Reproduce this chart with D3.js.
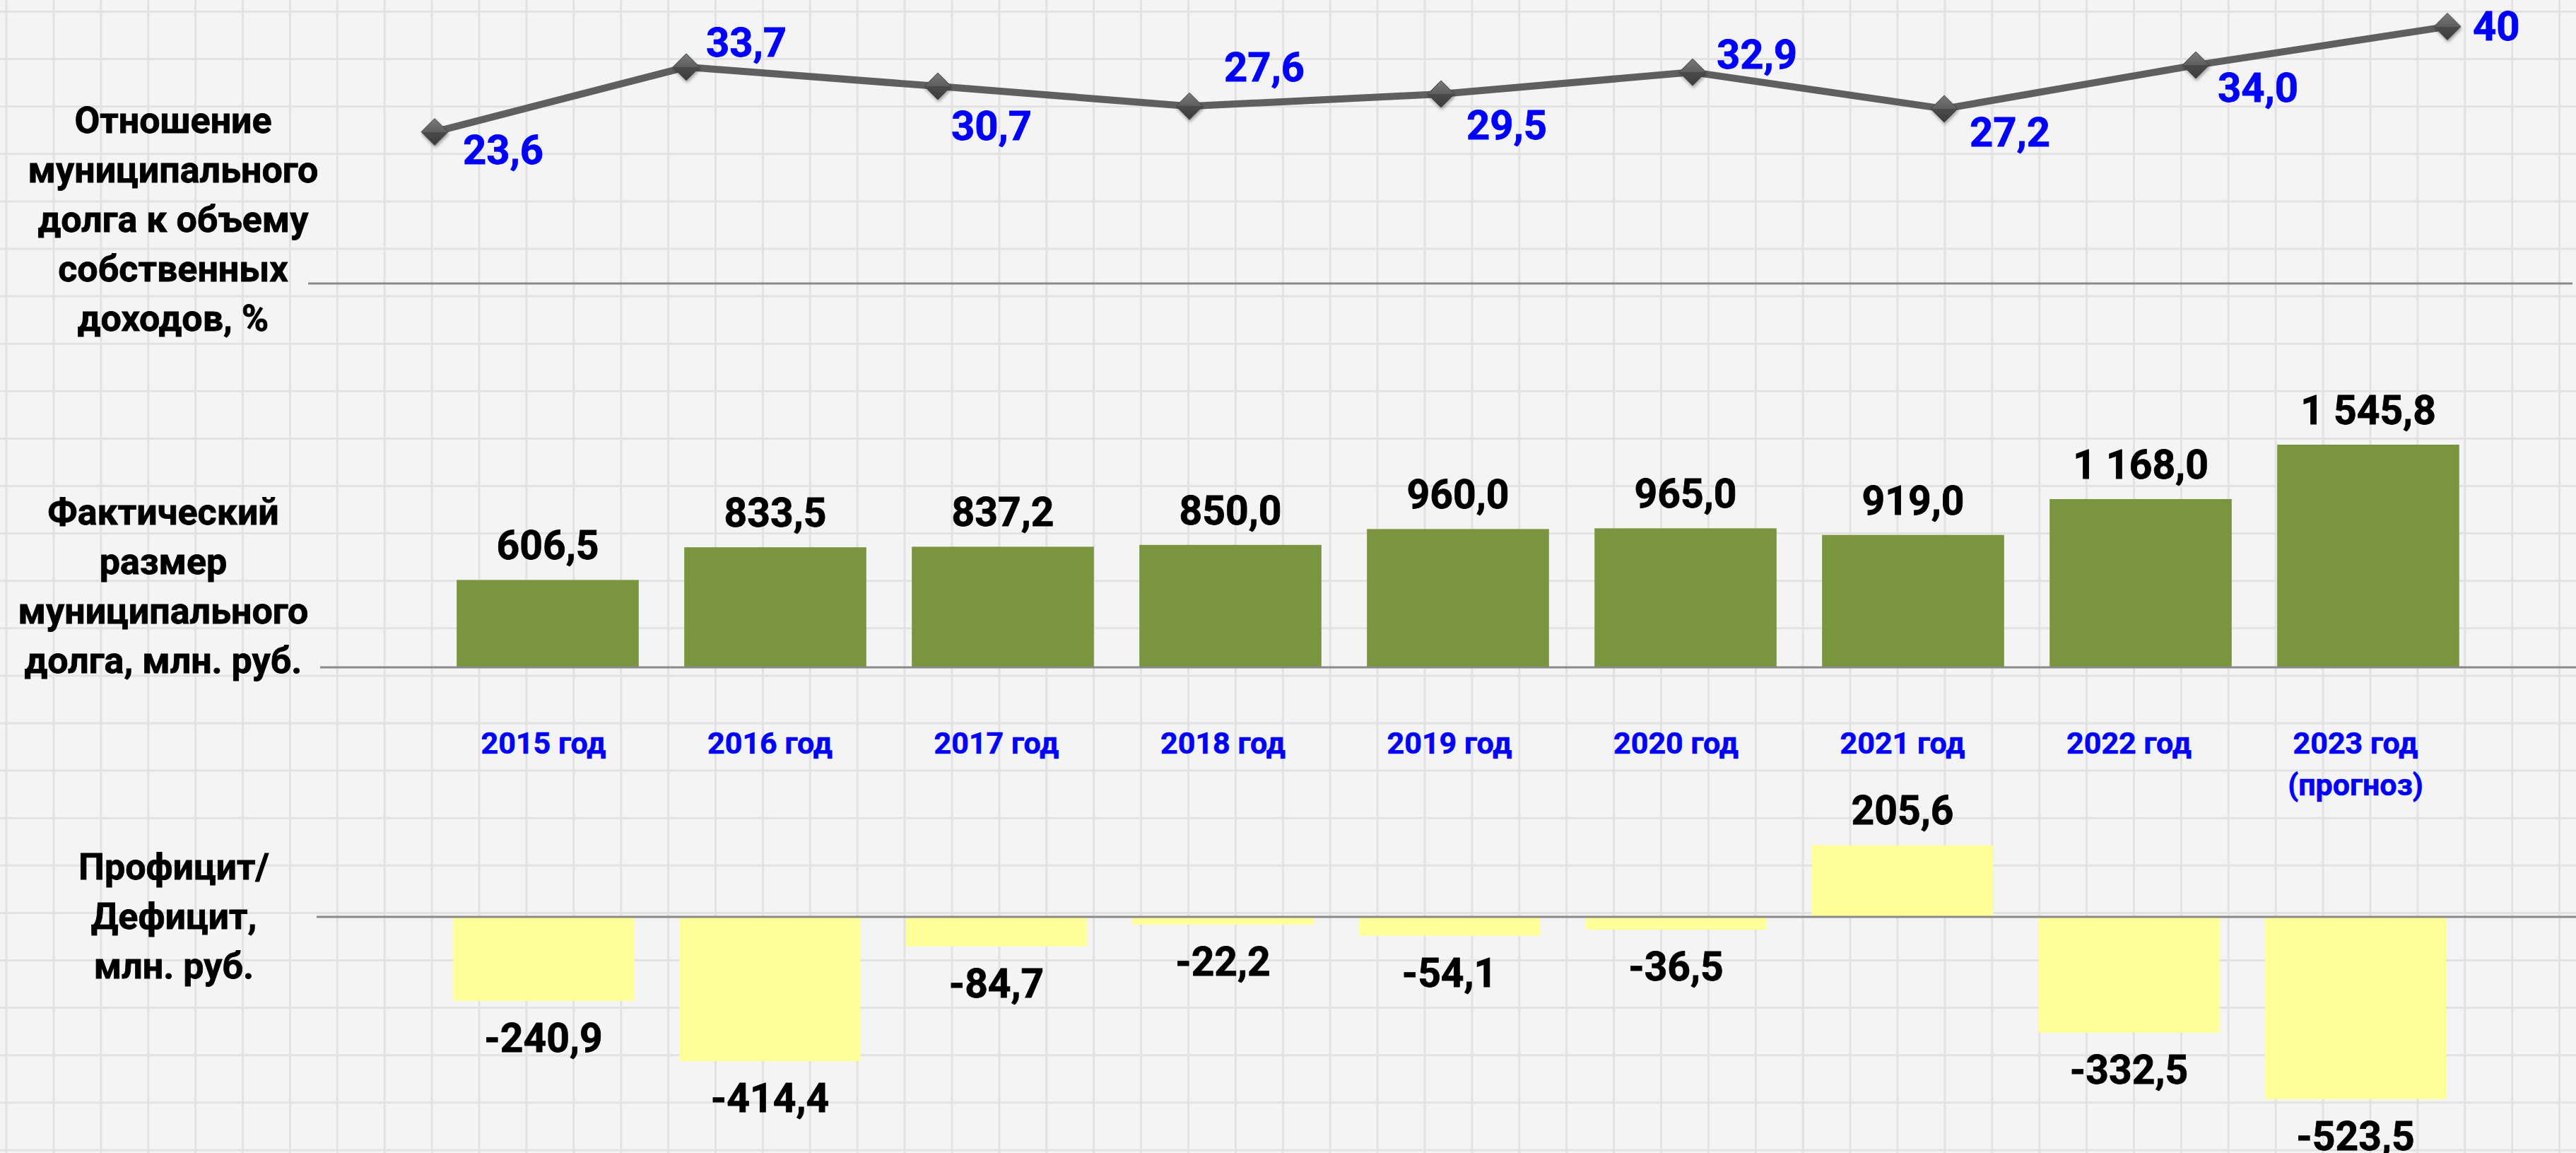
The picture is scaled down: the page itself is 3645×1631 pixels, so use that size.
<!DOCTYPE html>
<html>
  <head>
    <meta charset="utf-8">
    <script src="https://d3js.org/d3.v7.min.js"></script>
    <title>Муниципальный долг</title>
    <style>
      body { margin: 0px; background: #f4f4f4; }
      text { font-family: Roboto, "Open Sans", sans-serif; font-weight: 700; }
    </style>
  </head>
  <body>
    <svg width="3645" height="1631"></svg>
    <script>
      // data
      const years = ['2015 год', '2016 год', '2017 год', '2018 год', '2019 год',
                     '2020 год', '2021 год', '2022 год', '2023 год'];
      const yearNotes = ['', '', '', '', '', '', '', '', '(прогноз)'];
      const debtRatio = [23.6, 33.7, 30.7, 27.6, 29.5, 32.9, 27.2, 34.0, 40];
      const debtRatioLabels = ['23,6', '33,7', '30,7', '27,6', '29,5', '32,9', '27,2', '34,0', '40'];
      const debtSize = [606.5, 833.5, 837.2, 850.0, 960.0, 965.0, 919.0, 1168.0, 1545.8];
      const balance = [-240.9, -414.4, -84.7, -22.2, -54.1, -36.5, 205.6, -332.5, -523.5];

      // label placement for the line (offset of label's left/baseline from the marker)
      const ratioLabelOffset = [[40, 45], [28, -15], [19, 76], [49, -35], [36, 64],
                                [34, -5], [36, 53], [31, 52], [36, 19]];

      const ruFormat = d3.formatLocale({
        decimal: ',', thousands: '\u00a0', grouping: [3], currency: ['', ''], minus: '-'
      }).format(',.1f');

      const svg = d3.select('svg');
      const width = +svg.attr('width');
      const height = +svg.attr('height');

      // background checkered grid
      const grid = svg.append('g').attr('stroke', '#e2e2e2').attr('stroke-width', 3);
      grid.selectAll('.v').data(d3.range(9, width, 66.9))
        .enter().append('line')
          .attr('x1', d => d).attr('x2', d => d)
          .attr('y1', 0).attr('y2', height);
      grid.selectAll('.h').data(d3.range(16.5, height, 67.1))
        .enter().append('line')
          .attr('y1', d => d).attr('y2', d => d)
          .attr('x1', 0).attr('x2', width);

      // left titles
      const titles = [
        { x: 245, y: 188, lines: ['Отношение', 'муниципального', 'долга к объему', 'собственных', 'доходов, %'] },
        { x: 231, y: 742, lines: ['Фактический', 'размер', 'муниципального', 'долга, млн. руб.'] },
        { x: 246, y: 1244, lines: ['Профицит/', 'Дефицит,', 'млн. руб.'] }
      ];
      titles.forEach(t => {
        const txt = svg.append('text')
          .attr('text-anchor', 'middle')
          .attr('font-size', 52)
          .attr('fill', '#000')
          .attr('stroke', '#000')
          .attr('stroke-width', 0.8);
        t.lines.forEach((l, i) => {
          txt.append('tspan').attr('x', t.x).attr('y', t.y + i * 70).text(l);
        });
      });

      // ---------- line: ratio of debt to own revenue ----------
      const xLine = d3.scalePoint().domain(years).range([437, 3641]).padding(0.5);
      const yLine = d3.scaleLinear().domain([0, 40]).range([401, 37.6]);

      svg.append('line')
        .attr('x1', 436).attr('x2', 3640)
        .attr('y1', yLine(0)).attr('y2', yLine(0))
        .attr('stroke', '#8a8a8a').attr('stroke-width', 3);

      const defs = svg.append('defs');
      const grad = defs.append('linearGradient').attr('id', 'dia')
        .attr('x1', 0).attr('y1', 0).attr('x2', 0).attr('y2', 1);
      grad.append('stop').attr('offset', '0%').attr('stop-color', '#7a7a7a');
      grad.append('stop').attr('offset', '50%').attr('stop-color', '#5e5e5e');
      grad.append('stop').attr('offset', '50%').attr('stop-color', '#4a4a4a');
      grad.append('stop').attr('offset', '100%').attr('stop-color', '#3c3c3c');
      const shadow = defs.append('filter').attr('id', 'shd')
        .attr('x', '-50%').attr('y', '-50%').attr('width', '200%').attr('height', '200%');
      shadow.append('feDropShadow').attr('dx', 1).attr('dy', 3).attr('stdDeviation', 2)
        .attr('flood-color', '#000').attr('flood-opacity', 0.35);

      const lineGen = d3.line()
        .x((d, i) => xLine(years[i]))
        .y(d => yLine(d));

      svg.append('path')
        .datum(debtRatio)
        .attr('d', lineGen)
        .attr('fill', 'none')
        .attr('stroke', '#5f5f5f')
        .attr('stroke-width', 10)
        .attr('stroke-linejoin', 'round');

      svg.selectAll('.marker').data(debtRatio)
        .enter().append('path')
          .attr('class', 'marker')
          .attr('transform', (d, i) => `translate(${xLine(years[i])},${yLine(d)})`)
          .attr('d', 'M0,-19L19,0L0,19L-19,0Z')
          .attr('fill', 'url(#dia)')
          .attr('stroke', '#444')
          .attr('stroke-width', 1)
          .attr('filter', 'url(#shd)');

      svg.selectAll('.ratio-label').data(debtRatio)
        .enter().append('text')
          .attr('class', 'ratio-label')
          .attr('x', (d, i) => xLine(years[i]) + ratioLabelOffset[i][0])
          .attr('y', (d, i) => yLine(d) + ratioLabelOffset[i][1])
          .attr('font-size', 58)
          .attr('fill', '#0000ff')
          .attr('stroke', '#0000ff')
          .attr('stroke-width', 0.8)
          .text((d, i) => debtRatioLabels[i]);

      // ---------- green bars: actual debt ----------
      const xDebt = d3.scaleBand().domain(years).range([614, 3512])
        .paddingInner(0.2).paddingOuter(0.1);
      const yDebt = d3.scaleLinear().domain([0, 1545.8]).range([944, 629]);

      svg.selectAll('.debt').data(debtSize)
        .enter().append('rect')
          .attr('class', 'debt')
          .attr('x', (d, i) => xDebt(years[i]))
          .attr('width', xDebt.bandwidth())
          .attr('y', d => yDebt(d))
          .attr('height', d => yDebt(0) - yDebt(d))
          .attr('fill', '#79953d');

      svg.append('line')
        .attr('x1', 453).attr('x2', width)
        .attr('y1', yDebt(0)).attr('y2', yDebt(0))
        .attr('stroke', '#8a8a8a').attr('stroke-width', 3);

      svg.selectAll('.debt-label').data(debtSize)
        .enter().append('text')
          .attr('class', 'debt-label')
          .attr('text-anchor', 'middle')
          .attr('x', (d, i) => xDebt(years[i]) + xDebt.bandwidth() / 2)
          .attr('y', d => yDebt(d) - 29)
          .attr('font-size', 57)
          .attr('fill', '#000')
          .attr('stroke', '#000')
          .attr('stroke-width', 0.8)
          .text(d => ruFormat(d));

      // ---------- yellow bars: surplus / deficit ----------
      const xBal = d3.scaleBand().domain(years).range([608.75, 3493.25])
        .paddingInner(0.2).paddingOuter(0.1);
      const yBal = d3.scaleLinear().domain([0, 100]).range([1297, 1297 - 49.27]);

      svg.selectAll('.bal').data(balance)
        .enter().append('rect')
          .attr('class', 'bal')
          .attr('x', (d, i) => xBal(years[i]))
          .attr('width', xBal.bandwidth())
          .attr('y', d => Math.min(yBal(d), yBal(0)))
          .attr('height', d => Math.abs(yBal(d) - yBal(0)))
          .attr('fill', '#ffff99');

      svg.append('line')
        .attr('x1', 448).attr('x2', width)
        .attr('y1', yBal(0)).attr('y2', yBal(0))
        .attr('stroke', '#8a8a8a').attr('stroke-width', 3);

      svg.selectAll('.bal-label').data(balance)
        .enter().append('text')
          .attr('class', 'bal-label')
          .attr('text-anchor', 'middle')
          .attr('x', (d, i) => xBal(years[i]) + xBal.bandwidth() / 2)
          .attr('y', d => d >= 0 ? yBal(d) - 30 : yBal(d) + 72)
          .attr('font-size', 57)
          .attr('fill', '#000')
          .attr('stroke', '#000')
          .attr('stroke-width', 0.8)
          .text(d => ruFormat(d));

      // year labels
      const yearText = svg.selectAll('.year').data(years)
        .enter().append('text')
          .attr('class', 'year')
          .attr('text-anchor', 'middle')
          .attr('font-size', 43)
          .attr('fill', '#0000ff')
          .attr('stroke', '#0000ff')
          .attr('stroke-width', 0.6);
      yearText.append('tspan')
        .attr('x', d => xBal(d) + xBal.bandwidth() / 2)
        .attr('y', 1066)
        .text(d => d);
      yearText.append('tspan')
        .attr('x', d => xBal(d) + xBal.bandwidth() / 2)
        .attr('y', 1125)
        .text((d, i) => yearNotes[i]);
    </script>
  </body>
</html>
